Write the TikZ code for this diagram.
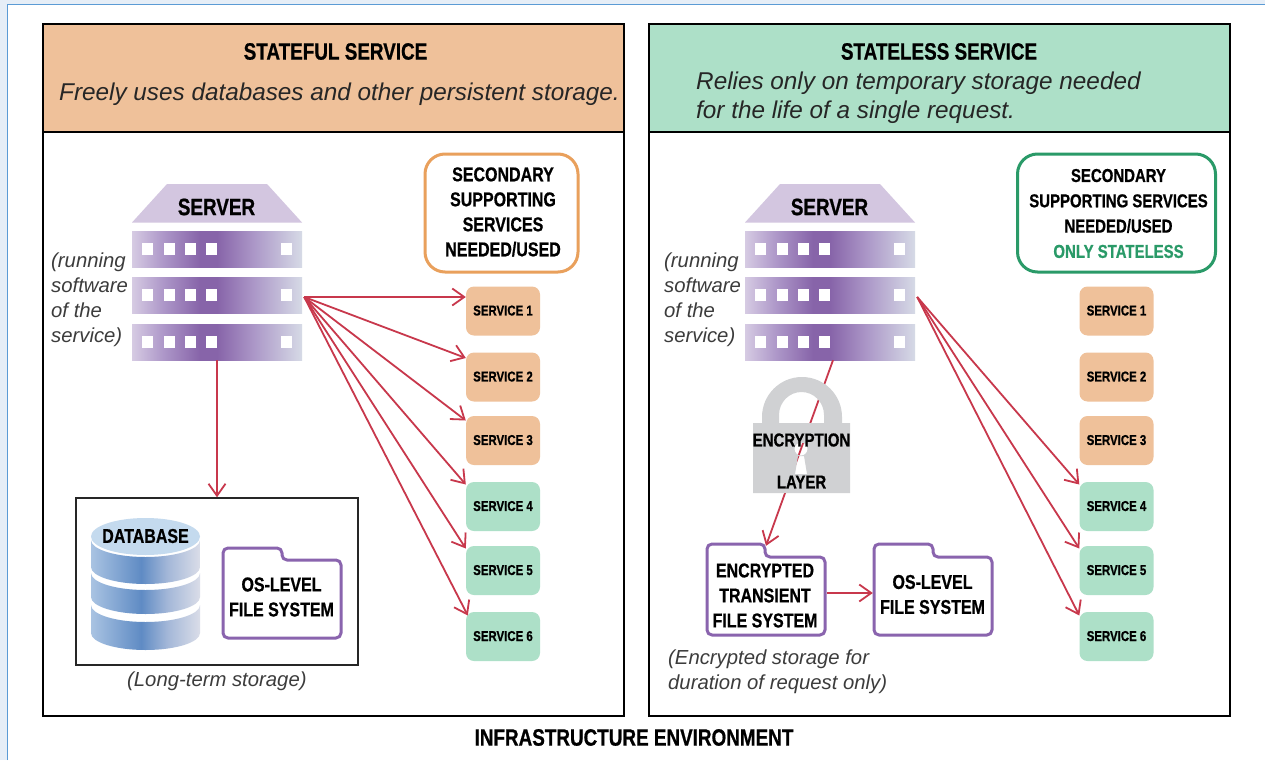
\documentclass[tikz,border=0pt]{standalone}
\usepackage{fontspec}
\setmainfont{Liberation Sans}
\newfontfamily\cond[FakeStretch=0.8,BoldFeatures={FakeStretch=0.8,FakeBold=0.7}]{Liberation Sans}
\usetikzlibrary{arrows.meta,calc}
\definecolor{hdrorange}{HTML}{EFC19A}
\definecolor{hdrgreen}{HTML}{ADE0C8}
\definecolor{edgeorange}{HTML}{E9A05C}
\definecolor{edgegreen}{HTML}{2A9A68}
\definecolor{redline}{HTML}{C8384C}
\definecolor{purpleline}{HTML}{8A64AE}
\definecolor{roofpurple}{HTML}{D3C6E0}
\definecolor{lockgrey}{HTML}{D0D1D3}
\definecolor{italicgrey}{HTML}{3C3C3C}
\definecolor{windowblue}{HTML}{5B9BD5}
\definecolor{strip}{HTML}{E6EEF7}
\definecolor{dbtop}{HTML}{C4DAEE}
\definecolor{pa}{HTML}{D6CBE3}\definecolor{pm}{HTML}{AE98C9}\definecolor{pb}{HTML}{8764A9}\definecolor{pn}{HTML}{AC98C8}\definecolor{pc}{HTML}{D6DAE6}
\definecolor{ba}{HTML}{A9C3E2}\definecolor{bb}{HTML}{5F8BC4}\definecolor{bn}{HTML}{A3B7D8}\definecolor{bc}{HTML}{DADDE8}
\pgfdeclarehorizontalshading{srvshade}{100bp}{color(0bp)=(pa);color(25bp)=(pa);color(34bp)=(pm);color(45bp)=(pb);color(50bp)=(pb);color(61bp)=(pn);color(75bp)=(pc);color(100bp)=(pc)}
\pgfdeclarehorizontalshading{dbshade}{100bp}{color(0bp)=(ba);color(25bp)=(ba);color(48bp)=(bb);color(60bp)=(bn);color(75bp)=(bc);color(100bp)=(bc)}
\tikzset{
  panel/.style={draw=black,line width=1.3pt,fill=white},
  panelhead/.style={draw=black,line width=1.3pt},
  title/.style={font=\cond\bfseries\fontsize{23.6}{27}\selectfont,text=black,inner sep=0pt},
  lbl/.style={font=\cond\bfseries\fontsize{20}{25}\selectfont,text=black,align=center,inner sep=0pt},
  lblsmall/.style={lbl,font=\cond\bfseries\fontsize{18.7}{25.3}\selectfont},
  note/.style={font=\itshape\fontsize{20.3}{25}\selectfont,text=italicgrey,align=left,inner sep=0pt,anchor=north west},
  headnote/.style={font=\itshape\fontsize{24.3}{29.5}\selectfont,text=black!85,align=left,inner sep=0pt,anchor=west},
  svcbox/.style={rounded corners=8pt,minimum width=74pt,minimum height=49pt,inner sep=0pt,
    font=\cond\bfseries\fontsize{14.3}{18}\selectfont,text=black},
  svco/.style={svcbox,fill=hdrorange},
  svcg/.style={svcbox,fill=hdrgreen},
  secbox/.style={rounded corners=20pt,line width=3pt,fill=white,inner sep=0pt},
  link/.style={draw=redline,line width=1.8pt,-{Straight Barb[length=12pt,width=17pt,line width=1.8pt]}},
  folderline/.style={draw=purpleline,line width=3pt,fill=white,line join=round,rounded corners=5pt},
  folderbox/.style={inner sep=0pt,minimum width=118pt,minimum height=91pt},
  srvrow/.style={shading=srvshade,minimum width=170pt,minimum height=36pt,inner sep=0pt},
  dbseg/.style={shading=dbshade},
}
\newcommand{\serverstack}[2]{%
  \begin{scope}[shift={(#1,0)}]
    \fill[roofpurple] (167,184) -- (267,184) -- (302,222.5) -- (132,222.5) -- cycle;
    \node[title] (#2title) at (216.5,207) {SERVER};
    \node[srvrow] (#2a) at (217,249) {};
    \node[srvrow] (#2b) at (217,295) {};
    \node[srvrow] (#2c) at (217,342) {};
    \foreach \ry in {243,289,336}
      \foreach \sx in {142,163.5,185,206,281}
        \fill[white] (\sx,\ry) rectangle ++(11,12);
    \node[note] (#2note) at (51,253) {(running\\software\\of the\\service)};
  \end{scope}}
\newcommand{\foldershape}[6]{% x1 y1 x2 y2 tabx stepy
  \draw[folderline] (#1,#2) -- (#5,#2) -- (#5,#6) -- (#3,#6) -- (#3,#4) -- (#1,#4) -- cycle;}
\begin{document}
\begin{tikzpicture}[x=1pt,y=-1pt]
\useasboundingbox (0,0) rectangle (1265,760);
\fill[strip] (0,0) rectangle (1265,760);
\fill[white] (7,5) rectangle (1265,760);
\draw[windowblue,line width=1pt] (7,760) -- (7,5) -- (1265,5);

% panels
\draw[panel] (43,24) rectangle (624,716);
\draw[panel] (649,24) rectangle (1230,716);
\draw[panelhead,fill=hdrorange] (43,24) rectangle (624,132);
\draw[panelhead,fill=hdrgreen] (649,24) rectangle (1230,132);
\node[title] (t1) at (335.5,51.5) {STATEFUL SERVICE};
\node[headnote] (h1) at (59,94) {Freely uses databases and other persistent storage.};
\node[title] (t2) at (939,51.5) {STATELESS SERVICE};
\node[headnote] (h2) at (696,97.5) {Relies only on temporary storage needed\\for the life of a single request.};

% secondary boxes
\node[secbox,draw=edgeorange,minimum width=153pt,minimum height=118pt] (sec1) at (501.5,213) {};
\node[lbl] (sec1t) at (503,212) {SECONDARY\\SUPPORTING\\SERVICES\\NEEDED/USED};
\node[secbox,draw=edgegreen,minimum width=198pt,minimum height=118pt] (sec2) at (1116.5,213) {};
\node[lblsmall] (sec2t) at (1118.5,213.5) {SECONDARY\\SUPPORTING SERVICES\\NEEDED/USED\\\textcolor{edgegreen}{ONLY STATELESS}};

% services
\foreach \n/\y/\st in {1/311/svco,2/377/svco,3/440.5/svco,4/506.5/svcg,5/570.5/svcg,6/636.5/svcg}{
  \node[\st] (sa\n) at (503,\y) {\raisebox{1pt}{SERVICE \n}};
  \node[\st] (sb\n) at (1116.5,\y) {\raisebox{1pt}{SERVICE \n}};
}

% servers
\serverstack{0}{l}
\serverstack{613}{r}

% left connectors
\coordinate (lport) at ($(lb.east)+(2,2)$);
\draw[link] (lport) -- ([yshift=14pt]sa1.west);
\draw[link] (lport) -- ([yshift=19pt]sa2.west);
\draw[link] (lport) -- ([yshift=20pt]sa3.west);
\draw[link] (lport) -- ([yshift=22pt]sa4.west);
\draw[link] (lport) -- ([yshift=22pt]sa5.west);
\draw[link] (lport) -- ([xshift=2pt,yshift=21pt]sa6.west);

% long term storage
\node[draw=black!85,line width=1.4pt,minimum width=282pt,minimum height=167pt,inner sep=0pt] (store) at (217,581.5) {};
\draw[link] (lc.south) -- (store.north);
\foreach \t/\b in {605/633,573/597,540/567}
  \path[dbseg] (91,\t) arc[start angle=180,end angle=0,x radius=54.5,y radius=17] -- (200,\b)
     arc[start angle=0,end angle=180,x radius=54.5,y radius=17] -- cycle;
\fill[dbtop] (145.5,536.5) ellipse[x radius=54.5,y radius=18.5];
\node[lbl] (dbt) at (145.5,536) {DATABASE};
\foldershape{223}{548}{341}{638}{282}{560}
\node[lbl] (osl) at (281.5,597) {OS-LEVEL\\FILE SYSTEM};
\node[note] (longnote) at (127,672) {(Long-term storage)};

% right: server to encrypted folder, behind the lock
\foldershape{707}{544}{825}{635}{765}{557}
\foldershape{874}{544}{992}{635}{933}{557}
\node[folderbox] (encf) at (766,589.5) {};
\node[folderbox] (osf) at (933,589.5) {};
\draw[link] ($(rc.south)+(3,0)$) -- ([yshift=-2pt]encf.north);
\fill[lockgrey,even odd rule]
  (753,423) rectangle (850,493)
  (801,449) circle[radius=6.5]
  (798,456) -- (804,456) -- (807,474) -- (795,474) -- cycle;
\fill[lockgrey,even odd rule]
  (762,423.5) -- (762,417) arc[start angle=180,end angle=360,x radius=40,y radius=40] -- (842,423.5) -- cycle
  (779,423.5) -- (779,415) arc[start angle=180,end angle=360,x radius=22.5,y radius=23] -- (824,423.5) -- cycle;
\node[lblsmall] (enc1) at (801.5,440) {ENCRYPTION};
\node[lblsmall] (enc2) at (801.5,482) {LAYER};
\node[lbl] (enct) at (765,595.5) {ENCRYPTED\\TRANSIENT\\FILE SYSTEM};
\node[lbl] (oslr) at (932.5,594.5) {OS-LEVEL\\FILE SYSTEM};
\draw[link] ([xshift=2pt,yshift=-3.5pt]encf.east) -- ([xshift=-1pt,yshift=-3.5pt]osf.west);
\node[note] (encnote) at (668,650) {(Encrypted storage for\\duration of request only)};

% right connectors
\coordinate (rport) at ($(rb.east)+(2,2)$);
\draw[link] (rport) -- ([yshift=22pt]sb4.west);
\draw[link] (rport) -- ([yshift=22pt]sb5.west);
\draw[link] (rport) -- ([yshift=21pt]sb6.west);

\node[title] (infra) at (634,737.5) {INFRASTRUCTURE ENVIRONMENT};
\end{tikzpicture}
\end{document}
